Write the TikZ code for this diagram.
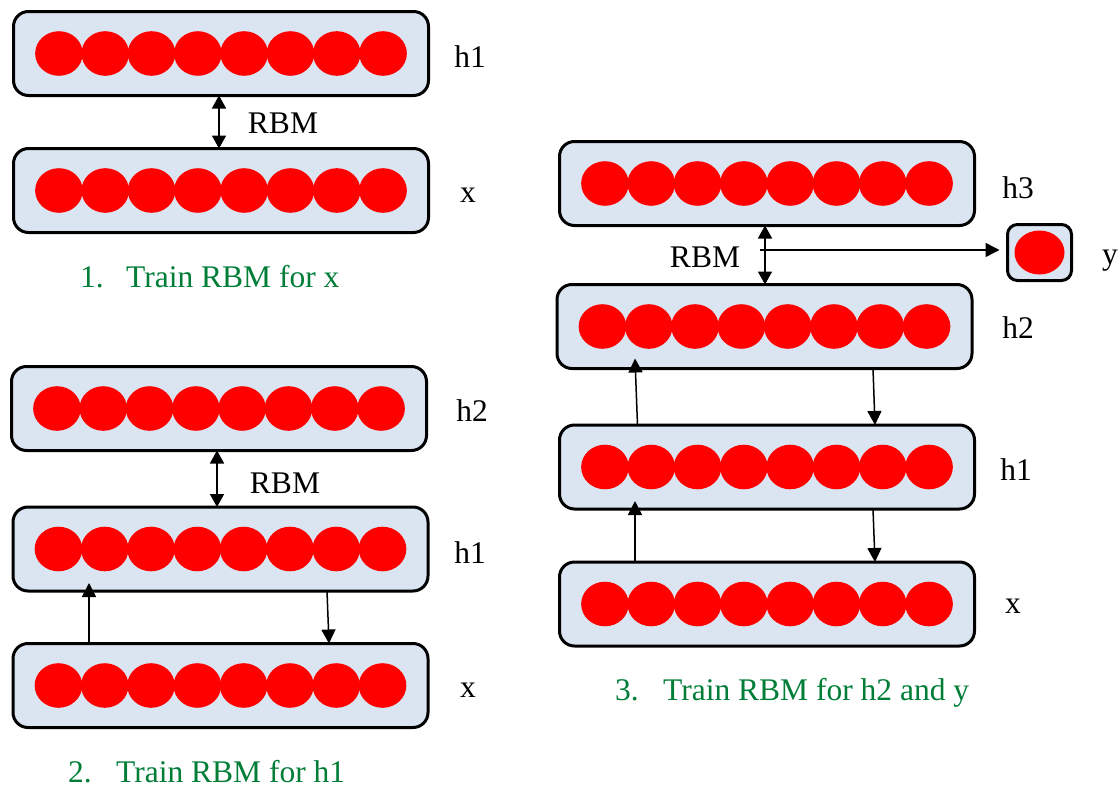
\documentclass[tikz,border=0pt]{standalone}
\usepackage{fontspec}
\setmainfont{Liberation Serif}
\usetikzlibrary{arrows.meta}
\definecolor{boxfill}{RGB}{219,228,241}
\definecolor{capgreen}{RGB}{0,125,55}
\definecolor{unitred}{RGB}{255,0,0}
\tikzset{
  layerbox/.style={draw=black, line width=3pt, fill=boxfill, rounded corners=15pt,
    minimum width=415pt, minimum height=84pt, inner sep=0pt, outer sep=0pt},
  ybox/.style={draw=black, line width=3pt, fill=boxfill, rounded corners=10pt,
    minimum width=64pt, minimum height=56pt, inner sep=0pt, outer sep=0pt},
  lbl/.style={inner sep=0pt, anchor=base, font=\fontsize{31.5}{36}\selectfont},
  captext/.style={inner sep=0pt, anchor=base west, text=capgreen, font=\fontsize{31.5}{36}\selectfont},
  conn/.style={line width=1.5pt, -{Triangle[width=14pt,length=14pt]}},
  dconn/.style={line width=1.5pt, {Triangle[width=14pt,length=13pt]}-{Triangle[width=14pt,length=13pt]}},
}
\newcommand{\rbmlayer}[3]{%
  \node[layerbox] (#1) at (#2,#3) {};
  \foreach \i in {0,...,7} {
    \fill[unitred] ({#2+(\i-3.5)*46.3},#3) ellipse [x radius=23.8pt, y radius=22.3pt];
  }%
}
\begin{document}
\begin{tikzpicture}[x=1pt,y=-1pt]
\useasboundingbox (0,0) rectangle (1120,787);

% ---------- Panel 1 ----------
\rbmlayer{pAh}{221}{53.5}
\rbmlayer{pAx}{221}{190.5}
\draw[dconn] ([xshift=-2pt]pAh.south) -- ([xshift=-2pt]pAx.north);
\node[lbl] (pAlr) at (283,133) {RBM};
\node[lbl] (pAlh) at (470,67) {h1};
\node[lbl] (pAlx) at (468,202) {x};
\node[captext] (pAc) at (80,287) {\makebox[46pt][l]{1.}Train RBM for x};

% ---------- Panel 2 ----------
\rbmlayer{pBhb}{219}{408.5}
\rbmlayer{pBha}{220.5}{549}
\rbmlayer{pBx}{220.5}{685.5}
\draw[dconn] ([xshift=-2pt]pBhb.south) -- ([xshift=-3.5pt]pBha.north);
\draw[conn] ([xshift=-131.5pt]pBx.north) -- ([xshift=-131.5pt,yshift=8pt]pBha.south);
\draw[conn] ([xshift=106.5pt]pBha.south) -- ([xshift=108.5pt]pBx.north);
\node[lbl] (pBlr) at (285,493) {RBM};
\node[lbl] (pBlhb) at (472,421) {h2};
\node[lbl] (pBlha) at (470,563) {h1};
\node[lbl] (pBlx) at (468,697) {x};
\node[captext] (pBc) at (68,782) {\makebox[48pt][l]{2.}Train RBM for h1};

% ---------- Panel 3 ----------
\rbmlayer{pChc}{767}{183.5}
\rbmlayer{pChb}{764.5}{326.5}
\rbmlayer{pCha}{767}{467}
\rbmlayer{pCx}{767}{604}
\node[ybox] (pCy) at (1039.5,252.5) {};
\fill[unitred] (pCy.center) ellipse [x radius=25pt, y radius=22pt];
\draw[dconn] ([xshift=-2pt]pChc.south) -- ([xshift=0.5pt]pChb.north);
\coordinate (pCsplit) at (760,250);
\draw[conn, shorten >=8pt] (pCsplit) -- (pCsplit -| pCy.west);
\draw[conn] ([xshift=-132pt]pCx.north) -- ([xshift=-132pt,yshift=8pt]pCha.south);
\draw[conn] ([xshift=-129.5pt]pCha.north) -- ([xshift=-129.5pt,yshift=10pt]pChb.south);
\draw[conn] ([xshift=108.5pt]pChb.south) -- ([xshift=108pt]pCha.north);
\draw[conn] ([xshift=106pt]pCha.south) -- ([xshift=108pt]pCx.north);
\node[lbl] (pClr) at (705,267) {RBM};
\node[lbl] (pClhc) at (1018,198) {h3};
\node[lbl] (pClhb) at (1018,338) {h2};
\node[lbl] (pClha) at (1016,480) {h1};
\node[lbl] (pClx) at (1013,613) {x};
\node[lbl] (pCly) at (1110,264) {y};
\node[captext] (pCc) at (615,700) {\makebox[48pt][l]{3.}Train RBM for h2 and y};
\end{tikzpicture}
\end{document}
